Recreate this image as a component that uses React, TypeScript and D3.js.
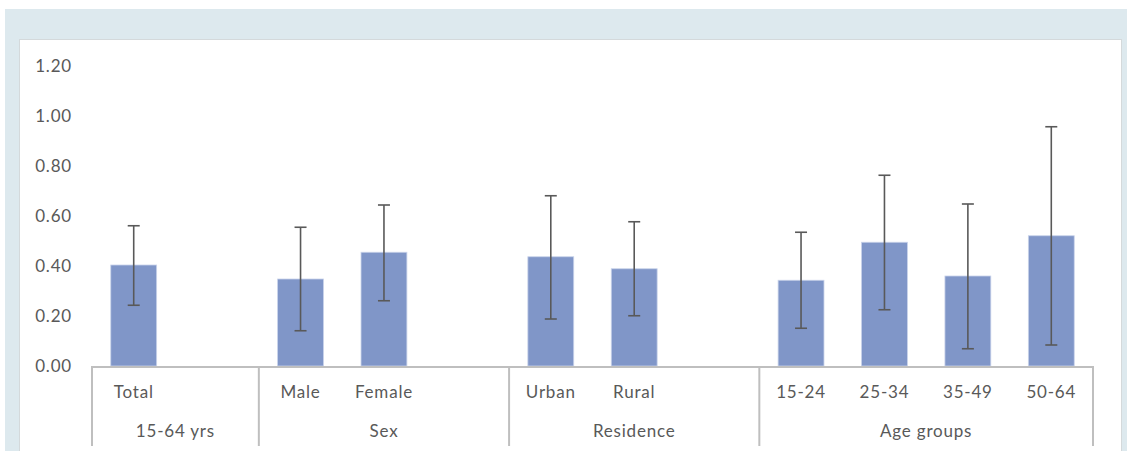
import React from "react";
import { useRef, useEffect } from "react";
import * as d3 from "d3";

const groups = ["15-64 yrs", "Sex", "Residence", "Age groups"];
const categories = ["Total", "Male", "Female", "Urban", "Rural", "15-24", "25-34", "35-49", "50-64"];
const categoryGroup = [0, 1, 1, 2, 2, 3, 3, 3, 3];
const values = [0.404, 0.348, 0.455, 0.437, 0.389, 0.343, 0.495, 0.36, 0.521];
const lower = [0.243, 0.141, 0.261, 0.188, 0.201, 0.151, 0.225, 0.069, 0.084];
const upper = [0.561, 0.555, 0.644, 0.681, 0.577, 0.535, 0.763, 0.648, 0.957];
const yTicks = [0, 0.2, 0.4, 0.6, 0.8, 1.0, 1.2];

function App() {
  const svgRef = useRef<SVGSVGElement | null>(null);
  const width = 1127,
    height = 451;

  function renderChart() {
    const svg = d3.select(svgRef.current);
    svg.selectAll("*").remove();
    const font = "Lato, 'Open Sans', sans-serif";
    const textColor = "#595959";
    const spacing = "0.8px";

    // background frame
    svg.append("rect").attr("x", 5).attr("y", 9).attr("width", width - 5).attr("height", height - 9).attr("fill", "#dde9ee");
    svg
      .append("rect")
      .attr("x", 19.5)
      .attr("y", 39.5)
      .attr("width", 1102)
      .attr("height", height)
      .attr("fill", "#ffffff")
      .attr("stroke", "#d4d9db")
      .attr("stroke-width", 1);

    // slots: each group's categories, then a blank slot between groups
    const slots: string[] = [];
    const slotGroup: number[] = [];
    groups.forEach((g, gi) => {
      categories.forEach((c, ci) => {
        if (categoryGroup[ci] === gi) {
          slots.push(c);
          slotGroup.push(gi);
        }
      });
      if (gi < groups.length - 1) {
        slots.push("__blank" + gi);
        slotGroup.push(gi);
      }
    });

    const x = d3.scaleBand().domain(slots).range([92, 1093]).paddingInner(0).paddingOuter(0);
    const y = d3.scaleLinear().domain([0, 1.2]).range([366, 66]);
    const barW = x.step() * 0.55;

    // y labels
    svg
      .append("g")
      .selectAll("text")
      .data(yTicks)
      .join("text")
      .attr("x", 72)
      .attr("y", (d) => y(d))
      .attr("dy", "0.35em")
      .attr("text-anchor", "end")
      .attr("font-family", font)
      .attr("font-size", 17)
      .attr("letter-spacing", spacing)
      .attr("fill", textColor)
      .text((d) => d.toFixed(2));

    // bars
    svg
      .append("g")
      .selectAll("rect")
      .data(categories)
      .join("rect")
      .attr("x", (d) => x(d)! + x.bandwidth() / 2 - barW / 2)
      .attr("y", (d, i) => y(values[i]))
      .attr("width", barW)
      .attr("height", (d, i) => y(0) - y(values[i]))
      .attr("fill", "#8096c8")
      .attr("stroke", "#c9d3ea")
      .attr("stroke-width", 0.8);

    // error bars
    const err = svg.append("g").attr("stroke", "#595959").attr("stroke-width", 1.6);
    categories.forEach((c, i) => {
      const cx = x(c)! + x.bandwidth() / 2;
      err.append("line").attr("x1", cx).attr("x2", cx).attr("y1", y(lower[i])).attr("y2", y(upper[i]));
      [lower[i], upper[i]].forEach((v) => {
        err.append("line").attr("x1", cx - 6).attr("x2", cx + 6).attr("y1", y(v)).attr("y2", y(v));
      });
    });

    // category axis
    const axisColor = "#bfbfbf";
    const ax = svg.append("g").attr("stroke", axisColor).attr("stroke-width", 2);
    ax.append("line").attr("x1", 91).attr("x2", 1094).attr("y1", 367).attr("y2", 367);

    const groupBounds = groups.map((g, gi) => {
      const idx = slots.map((s, si) => si).filter((si) => slotGroup[si] === gi);
      const x0 = x(slots[idx[0]])!;
      const x1 = x(slots[idx[idx.length - 1]])! + x.step();
      return { name: g, x0, x1 };
    });
    const edges = [groupBounds[0].x0, ...groupBounds.map((b) => b.x1)];
    ax.selectAll("line.sep")
      .data(edges)
      .join("line")
      .attr("class", "sep")
      .attr("x1", (d) => d)
      .attr("x2", (d) => d)
      .attr("y1", 367)
      .attr("y2", 446);

    svg
      .append("g")
      .selectAll("text")
      .data(categories)
      .join("text")
      .attr("x", (d) => x(d)! + x.bandwidth() / 2)
      .attr("y", 392)
      .attr("dy", "0.35em")
      .attr("text-anchor", "middle")
      .attr("font-family", font)
      .attr("font-size", 17)
      .attr("letter-spacing", spacing)
      .attr("fill", textColor)
      .text((d) => d);

    svg
      .append("g")
      .selectAll("text")
      .data(groupBounds)
      .join("text")
      .attr("x", (d) => (d.x0 + d.x1) / 2)
      .attr("y", 431)
      .attr("dy", "0.35em")
      .attr("text-anchor", "middle")
      .attr("font-family", font)
      .attr("font-size", 17)
      .attr("letter-spacing", spacing)
      .attr("fill", textColor)
      .text((d) => d.name);
  }

  useEffect(() => {
    renderChart();
  }, []);

  return (
    <div style={{ position: "absolute", left: 0, top: 0 }}>
      <svg ref={svgRef} width={width} height={height} style={{ display: "block" }} />
    </div>
  );
}

export default App;
